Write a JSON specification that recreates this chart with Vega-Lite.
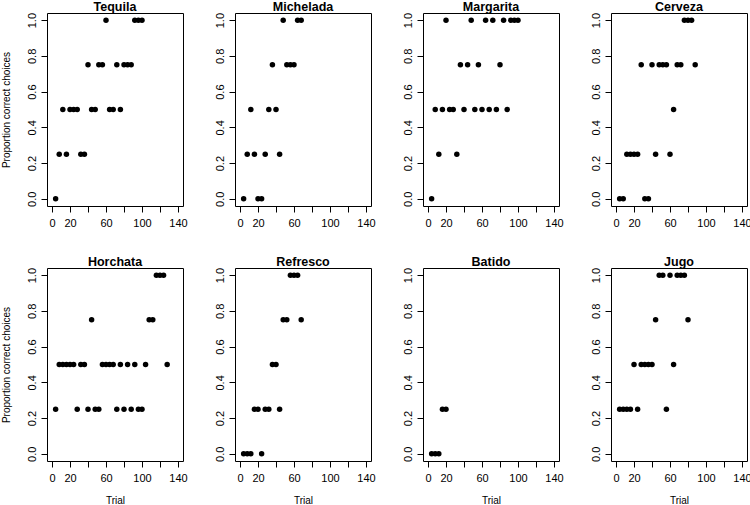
{
  "$schema": "https://vega.github.io/schema/vega-lite/v6.json",
  "padding": {"left": 0, "top": 0, "right": 0, "bottom": 0},
  "background": "white",
  "datasets": {
    "d": [
      {"drink": "Tequila", "trial": 4, "p": 0}, {"drink": "Tequila", "trial": 8, "p": 0.25}, {"drink": "Tequila", "trial": 12, "p": 0.5}, {"drink": "Tequila", "trial": 16, "p": 0.25}, {"drink": "Tequila", "trial": 20, "p": 0.5}, {"drink": "Tequila", "trial": 24, "p": 0.5}, {"drink": "Tequila", "trial": 28, "p": 0.5}, {"drink": "Tequila", "trial": 32, "p": 0.25}, {"drink": "Tequila", "trial": 36, "p": 0.25}, {"drink": "Tequila", "trial": 40, "p": 0.75}, {"drink": "Tequila", "trial": 44, "p": 0.5}, {"drink": "Tequila", "trial": 48, "p": 0.5}, {"drink": "Tequila", "trial": 52, "p": 0.75}, {"drink": "Tequila", "trial": 56, "p": 0.75}, {"drink": "Tequila", "trial": 60, "p": 1}, {"drink": "Tequila", "trial": 64, "p": 0.5}, {"drink": "Tequila", "trial": 68, "p": 0.5}, {"drink": "Tequila", "trial": 72, "p": 0.75}, {"drink": "Tequila", "trial": 76, "p": 0.5}, {"drink": "Tequila", "trial": 80, "p": 0.75}, {"drink": "Tequila", "trial": 84, "p": 0.75}, {"drink": "Tequila", "trial": 88, "p": 0.75}, {"drink": "Tequila", "trial": 92, "p": 1}, {"drink": "Tequila", "trial": 96, "p": 1}, {"drink": "Tequila", "trial": 100, "p": 1},
      {"drink": "Michelada", "trial": 4, "p": 0}, {"drink": "Michelada", "trial": 8, "p": 0.25}, {"drink": "Michelada", "trial": 12, "p": 0.5}, {"drink": "Michelada", "trial": 16, "p": 0.25}, {"drink": "Michelada", "trial": 20, "p": 0}, {"drink": "Michelada", "trial": 24, "p": 0}, {"drink": "Michelada", "trial": 28, "p": 0.25}, {"drink": "Michelada", "trial": 32, "p": 0.5}, {"drink": "Michelada", "trial": 36, "p": 0.75}, {"drink": "Michelada", "trial": 40, "p": 0.5}, {"drink": "Michelada", "trial": 44, "p": 0.25}, {"drink": "Michelada", "trial": 48, "p": 1}, {"drink": "Michelada", "trial": 52, "p": 0.75}, {"drink": "Michelada", "trial": 56, "p": 0.75}, {"drink": "Michelada", "trial": 60, "p": 0.75}, {"drink": "Michelada", "trial": 64, "p": 1}, {"drink": "Michelada", "trial": 68, "p": 1},
      {"drink": "Margarita", "trial": 4, "p": 0}, {"drink": "Margarita", "trial": 8, "p": 0.5}, {"drink": "Margarita", "trial": 12, "p": 0.25}, {"drink": "Margarita", "trial": 16, "p": 0.5}, {"drink": "Margarita", "trial": 20, "p": 1}, {"drink": "Margarita", "trial": 24, "p": 0.5}, {"drink": "Margarita", "trial": 28, "p": 0.5}, {"drink": "Margarita", "trial": 32, "p": 0.25}, {"drink": "Margarita", "trial": 36, "p": 0.75}, {"drink": "Margarita", "trial": 40, "p": 0.5}, {"drink": "Margarita", "trial": 44, "p": 0.75}, {"drink": "Margarita", "trial": 48, "p": 1}, {"drink": "Margarita", "trial": 52, "p": 0.5}, {"drink": "Margarita", "trial": 56, "p": 0.75}, {"drink": "Margarita", "trial": 60, "p": 0.5}, {"drink": "Margarita", "trial": 64, "p": 1}, {"drink": "Margarita", "trial": 68, "p": 0.5}, {"drink": "Margarita", "trial": 72, "p": 1}, {"drink": "Margarita", "trial": 76, "p": 0.5}, {"drink": "Margarita", "trial": 80, "p": 0.75}, {"drink": "Margarita", "trial": 84, "p": 1}, {"drink": "Margarita", "trial": 88, "p": 0.5}, {"drink": "Margarita", "trial": 92, "p": 1}, {"drink": "Margarita", "trial": 96, "p": 1}, {"drink": "Margarita", "trial": 100, "p": 1},
      {"drink": "Cerveza", "trial": 4, "p": 0}, {"drink": "Cerveza", "trial": 8, "p": 0}, {"drink": "Cerveza", "trial": 12, "p": 0.25}, {"drink": "Cerveza", "trial": 16, "p": 0.25}, {"drink": "Cerveza", "trial": 20, "p": 0.25}, {"drink": "Cerveza", "trial": 24, "p": 0.25}, {"drink": "Cerveza", "trial": 28, "p": 0.75}, {"drink": "Cerveza", "trial": 32, "p": 0}, {"drink": "Cerveza", "trial": 36, "p": 0}, {"drink": "Cerveza", "trial": 40, "p": 0.75}, {"drink": "Cerveza", "trial": 44, "p": 0.25}, {"drink": "Cerveza", "trial": 48, "p": 0.75}, {"drink": "Cerveza", "trial": 52, "p": 0.75}, {"drink": "Cerveza", "trial": 56, "p": 0.75}, {"drink": "Cerveza", "trial": 60, "p": 0.25}, {"drink": "Cerveza", "trial": 64, "p": 0.5}, {"drink": "Cerveza", "trial": 68, "p": 0.75}, {"drink": "Cerveza", "trial": 72, "p": 0.75}, {"drink": "Cerveza", "trial": 76, "p": 1}, {"drink": "Cerveza", "trial": 80, "p": 1}, {"drink": "Cerveza", "trial": 84, "p": 1}, {"drink": "Cerveza", "trial": 88, "p": 0.75},
      {"drink": "Horchata", "trial": 4, "p": 0.25}, {"drink": "Horchata", "trial": 8, "p": 0.5}, {"drink": "Horchata", "trial": 12, "p": 0.5}, {"drink": "Horchata", "trial": 16, "p": 0.5}, {"drink": "Horchata", "trial": 20, "p": 0.5}, {"drink": "Horchata", "trial": 24, "p": 0.5}, {"drink": "Horchata", "trial": 28, "p": 0.25}, {"drink": "Horchata", "trial": 32, "p": 0.5}, {"drink": "Horchata", "trial": 36, "p": 0.5}, {"drink": "Horchata", "trial": 40, "p": 0.25}, {"drink": "Horchata", "trial": 44, "p": 0.75}, {"drink": "Horchata", "trial": 48, "p": 0.25}, {"drink": "Horchata", "trial": 52, "p": 0.25}, {"drink": "Horchata", "trial": 56, "p": 0.5}, {"drink": "Horchata", "trial": 60, "p": 0.5}, {"drink": "Horchata", "trial": 64, "p": 0.5}, {"drink": "Horchata", "trial": 68, "p": 0.5}, {"drink": "Horchata", "trial": 72, "p": 0.25}, {"drink": "Horchata", "trial": 76, "p": 0.5}, {"drink": "Horchata", "trial": 80, "p": 0.25}, {"drink": "Horchata", "trial": 84, "p": 0.5}, {"drink": "Horchata", "trial": 88, "p": 0.25}, {"drink": "Horchata", "trial": 92, "p": 0.5}, {"drink": "Horchata", "trial": 96, "p": 0.25}, {"drink": "Horchata", "trial": 100, "p": 0.25}, {"drink": "Horchata", "trial": 104, "p": 0.5}, {"drink": "Horchata", "trial": 108, "p": 0.75}, {"drink": "Horchata", "trial": 112, "p": 0.75}, {"drink": "Horchata", "trial": 116, "p": 1}, {"drink": "Horchata", "trial": 120, "p": 1}, {"drink": "Horchata", "trial": 124, "p": 1}, {"drink": "Horchata", "trial": 128, "p": 0.5},
      {"drink": "Refresco", "trial": 4, "p": 0}, {"drink": "Refresco", "trial": 8, "p": 0}, {"drink": "Refresco", "trial": 12, "p": 0}, {"drink": "Refresco", "trial": 16, "p": 0.25}, {"drink": "Refresco", "trial": 20, "p": 0.25}, {"drink": "Refresco", "trial": 24, "p": 0}, {"drink": "Refresco", "trial": 28, "p": 0.25}, {"drink": "Refresco", "trial": 32, "p": 0.25}, {"drink": "Refresco", "trial": 36, "p": 0.5}, {"drink": "Refresco", "trial": 40, "p": 0.5}, {"drink": "Refresco", "trial": 44, "p": 0.25}, {"drink": "Refresco", "trial": 48, "p": 0.75}, {"drink": "Refresco", "trial": 52, "p": 0.75}, {"drink": "Refresco", "trial": 56, "p": 1}, {"drink": "Refresco", "trial": 60, "p": 1}, {"drink": "Refresco", "trial": 64, "p": 1}, {"drink": "Refresco", "trial": 68, "p": 0.75},
      {"drink": "Batido", "trial": 4, "p": 0}, {"drink": "Batido", "trial": 8, "p": 0}, {"drink": "Batido", "trial": 12, "p": 0}, {"drink": "Batido", "trial": 16, "p": 0.25}, {"drink": "Batido", "trial": 20, "p": 0.25},
      {"drink": "Jugo", "trial": 4, "p": 0.25}, {"drink": "Jugo", "trial": 8, "p": 0.25}, {"drink": "Jugo", "trial": 12, "p": 0.25}, {"drink": "Jugo", "trial": 16, "p": 0.25}, {"drink": "Jugo", "trial": 20, "p": 0.5}, {"drink": "Jugo", "trial": 24, "p": 0.25}, {"drink": "Jugo", "trial": 28, "p": 0.5}, {"drink": "Jugo", "trial": 32, "p": 0.5}, {"drink": "Jugo", "trial": 36, "p": 0.5}, {"drink": "Jugo", "trial": 40, "p": 0.5}, {"drink": "Jugo", "trial": 44, "p": 0.75}, {"drink": "Jugo", "trial": 48, "p": 1}, {"drink": "Jugo", "trial": 52, "p": 1}, {"drink": "Jugo", "trial": 56, "p": 0.25}, {"drink": "Jugo", "trial": 60, "p": 1}, {"drink": "Jugo", "trial": 64, "p": 0.5}, {"drink": "Jugo", "trial": 68, "p": 1}, {"drink": "Jugo", "trial": 72, "p": 1}, {"drink": "Jugo", "trial": 76, "p": 1}, {"drink": "Jugo", "trial": 80, "p": 0.75}
    ]
  },
  "columns": 4,
  "bounds": "flush",
  "spacing": {"row": 62, "column": 52},
  "concat": [
    {"width": 136, "height": 193, "data": {"name": "d"}, "transform": [{"filter": {"field": "drink", "equal": "Tequila"}}], "title": {"text": "Tequila", "offset": -1}, "mark": {"type": "point", "filled": true, "size": 30, "color": "black", "opacity": 1},
      "encoding": {"x": {"field": "trial", "type": "quantitative", "scale": {"domain": [-5.6, 145.6], "nice": false, "zero": false}, "axis": {"title": null, "values": [0, 20, 40, 60, 80, 100, 120, 140], "labelExpr": "(datum.value > 0 && datum.value % 40 == 0) ? '' : datum.label"}},
                   "y": {"field": "p", "type": "quantitative", "scale": {"domain": [-0.04, 1.04], "nice": false, "zero": false}, "axis": {"title": "Proportion correct choices", "values": [0, 0.2, 0.4, 0.6, 0.8, 1], "format": ".1f"}}}},
    {"width": 136, "height": 193, "data": {"name": "d"}, "transform": [{"filter": {"field": "drink", "equal": "Michelada"}}], "title": {"text": "Michelada", "offset": -1}, "mark": {"type": "point", "filled": true, "size": 30, "color": "black", "opacity": 1},
      "encoding": {"x": {"field": "trial", "type": "quantitative", "scale": {"domain": [-5.6, 145.6], "nice": false, "zero": false}, "axis": {"title": null, "values": [0, 20, 40, 60, 80, 100, 120, 140], "labelExpr": "(datum.value > 0 && datum.value % 40 == 0) ? '' : datum.label"}},
                   "y": {"field": "p", "type": "quantitative", "scale": {"domain": [-0.04, 1.04], "nice": false, "zero": false}, "axis": {"title": null, "values": [0, 0.2, 0.4, 0.6, 0.8, 1], "format": ".1f"}}}},
    {"width": 136, "height": 193, "data": {"name": "d"}, "transform": [{"filter": {"field": "drink", "equal": "Margarita"}}], "title": {"text": "Margarita", "offset": -1}, "mark": {"type": "point", "filled": true, "size": 30, "color": "black", "opacity": 1},
      "encoding": {"x": {"field": "trial", "type": "quantitative", "scale": {"domain": [-5.6, 145.6], "nice": false, "zero": false}, "axis": {"title": null, "values": [0, 20, 40, 60, 80, 100, 120, 140], "labelExpr": "(datum.value > 0 && datum.value % 40 == 0) ? '' : datum.label"}},
                   "y": {"field": "p", "type": "quantitative", "scale": {"domain": [-0.04, 1.04], "nice": false, "zero": false}, "axis": {"title": null, "values": [0, 0.2, 0.4, 0.6, 0.8, 1], "format": ".1f"}}}},
    {"width": 136, "height": 193, "data": {"name": "d"}, "transform": [{"filter": {"field": "drink", "equal": "Cerveza"}}], "title": {"text": "Cerveza", "offset": -1}, "mark": {"type": "point", "filled": true, "size": 30, "color": "black", "opacity": 1},
      "encoding": {"x": {"field": "trial", "type": "quantitative", "scale": {"domain": [-5.6, 145.6], "nice": false, "zero": false}, "axis": {"title": null, "values": [0, 20, 40, 60, 80, 100, 120, 140], "labelExpr": "(datum.value > 0 && datum.value % 40 == 0) ? '' : datum.label"}},
                   "y": {"field": "p", "type": "quantitative", "scale": {"domain": [-0.04, 1.04], "nice": false, "zero": false}, "axis": {"title": null, "values": [0, 0.2, 0.4, 0.6, 0.8, 1], "format": ".1f"}}}},
    {"width": 136, "height": 193, "data": {"name": "d"}, "transform": [{"filter": {"field": "drink", "equal": "Horchata"}}], "title": {"text": "Horchata", "offset": -1}, "mark": {"type": "point", "filled": true, "size": 30, "color": "black", "opacity": 1},
      "encoding": {"x": {"field": "trial", "type": "quantitative", "scale": {"domain": [-5.6, 145.6], "nice": false, "zero": false}, "axis": {"title": "Trial", "values": [0, 20, 40, 60, 80, 100, 120, 140], "labelExpr": "(datum.value > 0 && datum.value % 40 == 0) ? '' : datum.label"}},
                   "y": {"field": "p", "type": "quantitative", "scale": {"domain": [-0.04, 1.04], "nice": false, "zero": false}, "axis": {"title": "Proportion correct choices", "values": [0, 0.2, 0.4, 0.6, 0.8, 1], "format": ".1f"}}}},
    {"width": 136, "height": 193, "data": {"name": "d"}, "transform": [{"filter": {"field": "drink", "equal": "Refresco"}}], "title": {"text": "Refresco", "offset": -1}, "mark": {"type": "point", "filled": true, "size": 30, "color": "black", "opacity": 1},
      "encoding": {"x": {"field": "trial", "type": "quantitative", "scale": {"domain": [-5.6, 145.6], "nice": false, "zero": false}, "axis": {"title": "Trial", "values": [0, 20, 40, 60, 80, 100, 120, 140], "labelExpr": "(datum.value > 0 && datum.value % 40 == 0) ? '' : datum.label"}},
                   "y": {"field": "p", "type": "quantitative", "scale": {"domain": [-0.04, 1.04], "nice": false, "zero": false}, "axis": {"title": null, "values": [0, 0.2, 0.4, 0.6, 0.8, 1], "format": ".1f"}}}},
    {"width": 136, "height": 193, "data": {"name": "d"}, "transform": [{"filter": {"field": "drink", "equal": "Batido"}}], "title": {"text": "Batido", "offset": -1}, "mark": {"type": "point", "filled": true, "size": 30, "color": "black", "opacity": 1},
      "encoding": {"x": {"field": "trial", "type": "quantitative", "scale": {"domain": [-5.6, 145.6], "nice": false, "zero": false}, "axis": {"title": "Trial", "values": [0, 20, 40, 60, 80, 100, 120, 140], "labelExpr": "(datum.value > 0 && datum.value % 40 == 0) ? '' : datum.label"}},
                   "y": {"field": "p", "type": "quantitative", "scale": {"domain": [-0.04, 1.04], "nice": false, "zero": false}, "axis": {"title": null, "values": [0, 0.2, 0.4, 0.6, 0.8, 1], "format": ".1f"}}}},
    {"width": 136, "height": 193, "data": {"name": "d"}, "transform": [{"filter": {"field": "drink", "equal": "Jugo"}}], "title": {"text": "Jugo", "offset": -1}, "mark": {"type": "point", "filled": true, "size": 30, "color": "black", "opacity": 1},
      "encoding": {"x": {"field": "trial", "type": "quantitative", "scale": {"domain": [-5.6, 145.6], "nice": false, "zero": false}, "axis": {"title": "Trial", "values": [0, 20, 40, 60, 80, 100, 120, 140], "labelExpr": "(datum.value > 0 && datum.value % 40 == 0) ? '' : datum.label"}},
                   "y": {"field": "p", "type": "quantitative", "scale": {"domain": [-0.04, 1.04], "nice": false, "zero": false}, "axis": {"title": null, "values": [0, 0.2, 0.4, 0.6, 0.8, 1], "format": ".1f"}}}}
  ],
  "resolve": {"scale": {"x": "independent", "y": "independent"}},
  "config": {
    "view": {"stroke": "black", "strokeWidth": 1},
    "font": "Liberation Sans",
    "axis": {
      "grid": false, "domain": false, "ticks": true, "tickSize": 6, "tickColor": "black", "tickWidth": 1,
      "labelFont": "Liberation Sans", "labelFontSize": 11, "labelColor": "black", "labelFlush": false, "labelOverlap": false,
      "titleFont": "Liberation Sans", "titleFontSize": 10, "titleFontWeight": "normal", "titleColor": "black"
    },
    "axisX": {"labelPadding": 5, "titlePadding": 12},
    "axisY": {"labelAngle": -90, "labelPadding": 4, "titlePadding": 15},
    "title": {"font": "Liberation Sans", "fontSize": 12.5, "fontWeight": "bold", "color": "black", "anchor": "middle", "frame": "group"}
  }
}
